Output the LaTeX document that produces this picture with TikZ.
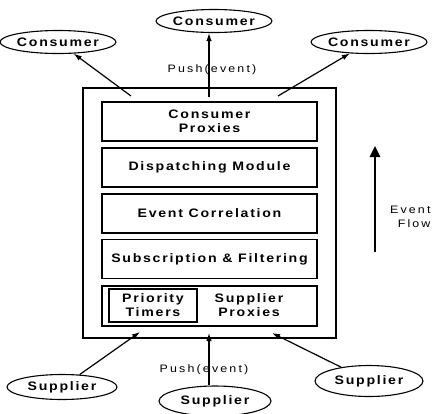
\documentclass[tikz,border=0pt]{standalone}
\usepackage{fontspec}
\setmainfont{Liberation Sans}
\newfontfamily\widefont[LetterSpace=14,FakeStretch=1.15]{Liberation Sans}
\newfontfamily\lblfont[LetterSpace=20,FakeStretch=1.15]{Liberation Sans}
\usetikzlibrary{shapes,arrows.meta,positioning,calc}

\begin{document}
\begin{tikzpicture}[x=1pt,y=-1pt,
    party/.style={draw, ellipse, line width=1.1pt, inner sep=0pt,
        minimum width=107pt, minimum height=23pt,
        font=\widefont\bfseries\fontsize{12.3}{14}\selectfont},
    layer/.style={draw, line width=1.2pt, inner sep=0pt, align=center,
        minimum width=215pt, minimum height=39pt,
        font=\widefont\bfseries\fontsize{12.3}{14}\selectfont},
    lbl/.style={font=\lblfont\fontsize{10.8}{14}\selectfont},
    push/.style={line width=1.2pt, -{Latex[length=8pt,width=5.5pt]}}]
    \useasboundingbox (0,0) rectangle (434,413);

    % event channel with its layers
    \node[draw, line width=1.5pt, minimum width=253pt, minimum height=250pt] (chan) at (209.5,213) {};
    \node[layer] (cprox) at (209.5,121.5) {Consumer\\Proxies};
    \node[layer] (disp) at (209.5,167.5) {Dispatching Module};
    \node[layer] (corr) at (209.5,213.5) {Event Correlation};
    \node[layer] (filt) at (209.5,259) {Subscription \& Filtering};
    \node[layer, minimum height=40pt] (sprox) at (209.5,306) {};
    \node[layer, minimum width=88pt, minimum height=33pt] (timers) at (153,305.5) {Priority\\Timers};
    \node[align=center, font=\widefont\bfseries\fontsize{12.3}{14}\selectfont] (sptext) at (249,305) {Supplier\\Proxies};

    % consumers
    \node[party] (conl) at (58,42) {Consumer};
    \node[party] (conm) at (214,21) {Consumer};
    \node[party] (conr) at (369,42) {Consumer};
    \node[lbl] (pushtop) at (212,70) {Push(event)};

    \coordinate (cl) at (131,96);
    \coordinate (cm) at (209,97);
    \coordinate (cr) at (278,96);
    \draw[push] (cl) -- (conl);
    \draw[push] (cm) -- (cm |- conm.south);
    \draw[push] (cr) -- (conr);

    % suppliers
    \node[party, minimum width=110pt, minimum height=25pt] (supl) at (62,387) {Supplier};
    \node[party, minimum width=112pt, minimum height=30pt] (supm) at (215,401) {Supplier};
    \node[party, minimum width=108pt, minimum height=31pt] (supr) at (369,381) {Supplier};
    \node[lbl] (pushbot) at (204,370) {Push(event)};

    \coordinate (sl) at (140,332);
    \coordinate (sm) at (209,333);
    \coordinate (sr) at (272,333);
    \draw[push] (supl) -- (sl);
    \draw[push] (sm |- supm.north) -- (sm);
    \draw[push] (supr) -- (sr);

    % event flow
    \coordinate (flowbot) at (375,252);
    \coordinate (flowtop) at (375,146);
    \draw[line width=2.5pt, -{Triangle[length=11pt,width=10pt]}] (flowbot) -- (flowtop);
    \node[lbl, align=right, anchor=east] (flowlbl) at (434,217) {Event\\Flow};
\end{tikzpicture}
\end{document}
